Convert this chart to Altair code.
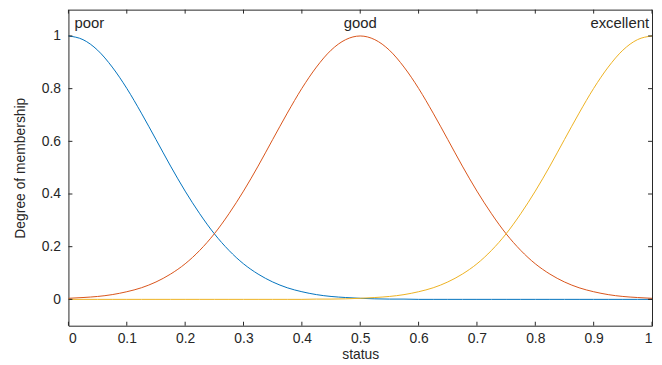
import altair as alt
import pandas as pd

# x positions (status) at which the curves were read
xs = [i * 0.025 for i in range(41)]

poor = [1.0, 0.986, 0.946, 0.882, 0.801, 0.707, 0.607, 0.506, 0.411, 0.325,
        0.249, 0.186, 0.135, 0.096, 0.066, 0.044, 0.029, 0.018, 0.011, 0.007,
        0.004, 0.002, 0.001, 0.001, 0.0, 0.0, 0.0, 0.0, 0.0, 0.0,
        0.0, 0.0, 0.0, 0.0, 0.0, 0.0, 0.0, 0.0, 0.0, 0.0, 0.0]
good = [0.004, 0.007, 0.011, 0.018, 0.029, 0.044, 0.066, 0.096, 0.135, 0.186,
        0.249, 0.325, 0.411, 0.506, 0.607, 0.707, 0.801, 0.882, 0.946, 0.986,
        1.0, 0.986, 0.946, 0.882, 0.801, 0.707, 0.607, 0.506, 0.411, 0.325,
        0.249, 0.186, 0.135, 0.096, 0.066, 0.044, 0.029, 0.018, 0.011, 0.007, 0.004]
excellent = list(reversed(poor))

series_names = ["poor", "good", "excellent"]
series_colors = ["#0072BD", "#D95319", "#EDB120"]

label_names = ["poor", "good", "excellent"]
label_x = [0.0, 0.5, 1.0]
label_y = [1.03, 1.03, 1.03]

x_ticks = [0, 0.1, 0.2, 0.3, 0.4, 0.5, 0.6, 0.7, 0.8, 0.9, 1.0]
y_ticks = [0, 0.2, 0.4, 0.6, 0.8, 1.0]

rows = []
for name, vals in zip(series_names, [poor, good, excellent]):
    for x, v in zip(xs, vals):
        rows.append({"status": x, "value": v, "mf": name})
df = pd.DataFrame(rows)

W, H = 589, 319
TL = 4
FONT = "Liberation Sans"
INK = "#262626"

xscale = alt.Scale(domain=[0, 1], nice=False, zero=False)
yscale = alt.Scale(domain=[-0.1, 1.1], nice=False, zero=False)

lines = alt.Chart(df).mark_line(strokeWidth=1, interpolate="monotone", clip=True).encode(
    x=alt.X("status:Q", scale=xscale,
            axis=alt.Axis(values=x_ticks, format=".1~f", title="status",
                          labelPadding=6, titlePadding=2)),
    y=alt.Y("value:Q", scale=yscale,
            axis=alt.Axis(values=y_ticks, format=".1~f", title="Degree of membership",
                          labelPadding=8, titlePadding=14)),
    color=alt.Color("mf:N", scale=alt.Scale(domain=series_names, range=series_colors),
                    legend=None),
    order=alt.Order("status:Q"),
)

xt = pd.DataFrame({"t": x_ticks})
yt = pd.DataFrame({"t": y_ticks})

tick_bottom = alt.Chart(xt).mark_rule(color=INK, strokeWidth=1).encode(
    x=alt.X("t:Q", scale=xscale), y=alt.value(H - TL), y2=alt.value(H))
tick_top = alt.Chart(xt).mark_rule(color=INK, strokeWidth=1).encode(
    x=alt.X("t:Q", scale=xscale), y=alt.value(0), y2=alt.value(TL))
tick_left = alt.Chart(yt).mark_rule(color=INK, strokeWidth=1).encode(
    y=alt.Y("t:Q", scale=yscale), x=alt.value(0), x2=alt.value(TL))
tick_right = alt.Chart(yt).mark_rule(color=INK, strokeWidth=1).encode(
    y=alt.Y("t:Q", scale=yscale), x=alt.value(W - TL), x2=alt.value(W))

lab = pd.DataFrame({"name": label_names, "x": label_x, "y": label_y})

def label_layer(i, align, dx):
    return alt.Chart(lab.iloc[[i]]).mark_text(
        align=align, baseline="alphabetic", dx=dx, font=FONT, fontSize=15, color=INK
    ).encode(x=alt.X("x:Q", scale=xscale), y=alt.Y("y:Q", scale=yscale), text="name:N")

labels = label_layer(0, "left", 6) + label_layer(1, "center", 0) + label_layer(2, "right", -3)

chart = alt.layer(
    lines, tick_bottom, tick_top, tick_left, tick_right, labels
).properties(
    width=W, height=H,
    autosize=alt.AutoSizeParams(type="none"),
    padding={"left": 61, "top": 0, "right": 2, "bottom": 37},
).configure_view(
    stroke=INK, strokeWidth=1
).configure_axis(
    domain=False, ticks=False, grid=False,
    labelFont=FONT, labelFontSize=14, labelColor=INK,
    titleFont=FONT, titleFontSize=14, titleColor=INK, titleFontWeight="normal",
)

chart.save("out.html", embed_options={"renderer": "svg", "actions": False})
